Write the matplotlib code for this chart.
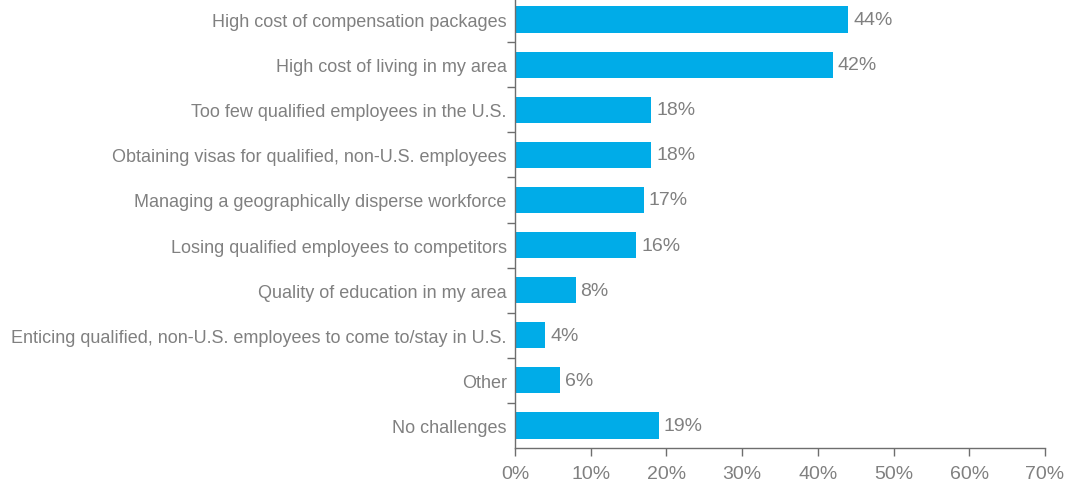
import matplotlib.pyplot as plt
import numpy as np

challenges = [
    "High cost of compensation packages",
    "High cost of living in my area",
    "Too few qualified employees in the U.S.",
    "Obtaining visas for qualified, non-U.S. employees",
    "Managing a geographically disperse workforce",
    "Losing qualified employees to competitors",
    "Quality of education in my area",
    "Enticing qualified, non-U.S. employees to come to/stay in U.S.",
    "Other",
    "No challenges",
]
shares = [44, 42, 18, 18, 17, 16, 8, 4, 6, 19]
x_ticks = [0, 10, 20, 30, 40, 50, 60, 70]

plt.rcParams["font.family"] = ["Liberation Sans", "DejaVu Sans"]
bar_color = "#00ACE8"
text_color = "#808080"
axis_color = "#6E6E6E"

fig = plt.figure(figsize=(10.65, 4.81), dpi=100)
ax = fig.add_axes([515 / 1065, 32 / 481, 530 / 1065, 451 / 481])

y = np.arange(len(challenges))
ax.barh(y, shares, height=0.58, color=bar_color)
for yi, v in zip(y, shares):
    ax.text(v + 0.65, yi, f"{v}%", va="center", ha="left", fontsize=14, color=text_color)

ax.set_ylim(len(challenges) - 0.5, -0.5)
ax.set_xlim(0, 70)
ax.set_xticks(x_ticks)
ax.set_xticklabels([f"{t}%" for t in x_ticks])
ax.set_yticks(y)
ax.set_yticklabels(challenges)
ax.set_yticks(y[:-1] + 0.5, minor=True)

ax.tick_params(axis="y", which="major", length=0, pad=6, labelsize=13, labelcolor=text_color)
ax.tick_params(axis="y", which="minor", length=6, width=1, color=axis_color)
ax.tick_params(axis="x", length=6, width=1, color=axis_color, pad=6, labelsize=14, labelcolor=text_color)

for side in ["top", "right"]:
    ax.spines[side].set_visible(False)
for side in ["left", "bottom"]:
    ax.spines[side].set_color(axis_color)
    ax.spines[side].set_linewidth(1)

fig.savefig("out.png", dpi=100)
